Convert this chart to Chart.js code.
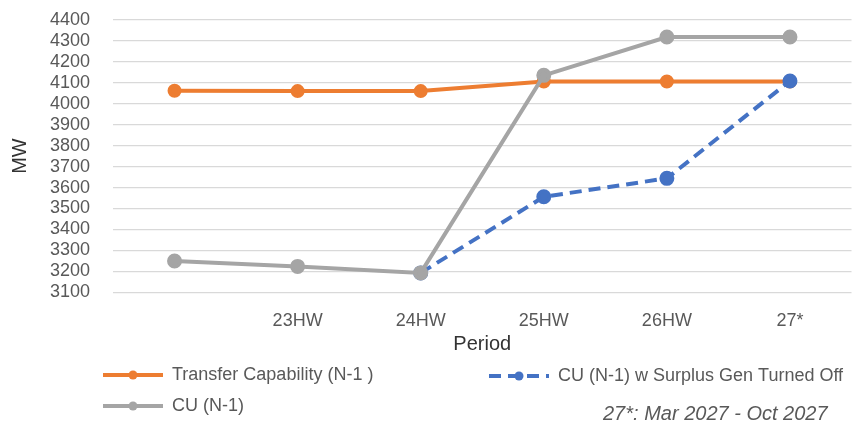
<!DOCTYPE html>
<html>
<head>
<meta charset="utf-8">
<script src="https://cdn.jsdelivr.net/npm/chart.js@4.4.1/dist/chart.umd.min.js"></script>
<style>
  html, body { margin: 0; padding: 0; background: #fff; }
  #wrap { width: 861px; height: 429px; position: relative; overflow: hidden; }
  #chart1 { position: absolute; left: 0; top: -14px; }
</style>
</head>
<body>
<div id="wrap"><canvas id="chart1" width="861" height="443"></canvas></div>
<script>
// periods on the x axis (first one has no label)
var periods = ['', '23HW', '24HW', '25HW', '26HW', '27*']
var transferCap = [4062, 4060, 4060, 4106, 4106, 4106]
var cuN1 = [3250, 3224, 3193, 4135, 4318, 4318]
var cuSurplusOff = [null, null, 3193, 3556, 3644, 4108]
var yTicksMin = 3100
var yTicksMax = 4400
var noteText = '27*: Mar 2027 - Oct 2027'

var FONT = "'Liberation Sans', Arial, sans-serif"
var TXT = '#595959'
var SHIFT = 14 // canvas is moved up by this much

// legend drawn by hand so it sits where the original put it
var legendPlugin = {
  id: 'handLegend',
  afterDraw: function(chart){
    var ctx = chart.ctx
    var items = [
      {ds: 0, x: 103, y: 375},
      {ds: 2, x: 103, y: 406},
      {ds: 1, x: 489, y: 376}
    ]
    ctx.save()
    ctx.translate(0, SHIFT)
    items.forEach(function(it){
      var d = chart.data.datasets[it.ds]
      ctx.strokeStyle = d.borderColor
      ctx.lineWidth = d.borderWidth
      ctx.setLineDash(d.borderDash || [])
      ctx.beginPath()
      ctx.moveTo(it.x, it.y)
      ctx.lineTo(it.x + 60, it.y)
      ctx.stroke()
      ctx.setLineDash([])
      ctx.fillStyle = d.pointBackgroundColor
      ctx.beginPath()
      ctx.arc(it.x + 30, it.y, 4.5, 0, Math.PI * 2)
      ctx.fill()
      ctx.fillStyle = TXT
      ctx.font = '18px ' + FONT
      ctx.textBaseline = 'middle'
      ctx.fillText(d.label, it.x + 69, it.y)
    })
    ctx.font = 'italic 20px ' + FONT
    ctx.fillStyle = TXT
    ctx.textBaseline = 'middle'
    ctx.fillText(noteText, 603, 414)
    ctx.restore()
  }
}

const ctx = document.getElementById('chart1');
new Chart(ctx, {
  type: 'line',
  data: {
    labels: periods,
    datasets: [{
      label: 'Transfer Capability (N-1 )',
      data: transferCap,
      borderColor: '#ED7D31',
      backgroundColor: '#ED7D31',
      pointBackgroundColor: '#ED7D31',
      pointBorderColor: '#ED7D31',
      borderWidth: 4,
      pointRadius: 5,
      lineTension: 0,
      fill: false,
      order: 3
    }, {
      label: 'CU (N-1) w Surplus Gen Turned Off',
      data: cuSurplusOff,
      borderColor: '#4472C4',
      backgroundColor: '#4472C4',
      pointBackgroundColor: '#4472C4',
      pointBorderColor: '#4472C4',
      borderWidth: 4,
      borderDash: [12, 7],
      pointRadius: 5.5,
      lineTension: 0,
      fill: false,
      order: 2
    }, {
      label: 'CU (N-1)',
      data: cuN1,
      borderColor: '#A5A5A5',
      backgroundColor: '#A5A5A5',
      pointBackgroundColor: '#A5A5A5',
      pointBorderColor: '#A5A5A5',
      borderWidth: 4,
      pointRadius: 5.5,
      lineTension: 0,
      fill: false,
      order: 1
    }]
  },
  options: {
    responsive: false,
    animation: false,
    layout: { padding: { top: 0, right: 0, bottom: 73, left: 0 } },
    plugins: {
      legend: { display: false },
      tooltip: { enabled: false }
    },
    scales: {
      x: {
        offset: true,
        grid: { display: false, drawTicks: false },
        border: { display: false },
        ticks: { color: TXT, font: { family: FONT, size: 18 }, padding: 18, maxRotation: 0 },
        title: { display: true, text: 'Period', color: '#333', font: { family: FONT, size: 20 }, padding: { top: -18, bottom: 0 } }
      },
      y: {
        min: yTicksMin,
        max: yTicksMax,
        grid: { color: '#D9D9D9', lineWidth: 1.3, drawTicks: false },
        border: { display: false },
        ticks: {
          stepSize: 100, autoSkip: false, color: TXT, font: { family: FONT, size: 18 }, padding: 23,
          callback: function(v){ return String(v) }
        },
        title: { display: true, text: 'MW', color: '#333', font: { family: FONT, size: 20 }, padding: { top: 8, bottom: 0 } },
        afterFit: function(scale){ scale.width = 113 }
      }
    }
  },
  plugins: [legendPlugin]
});
</script>
</body>
</html>
